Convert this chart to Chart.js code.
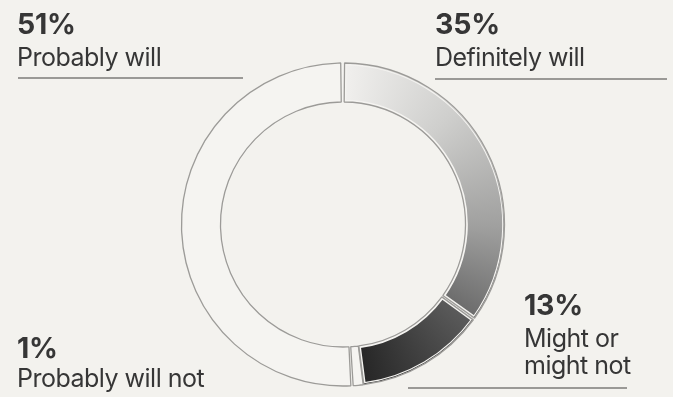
<!DOCTYPE html>
<html>
<head>
<meta charset="utf-8">
<script src="https://cdn.jsdelivr.net/npm/chart.js@4"></script>
<style>
  html, body { margin: 0; padding: 0; background: #f3f2ee; }
  #wrap { position: relative; width: 673px; height: 397px; overflow: hidden;
          font-family: Inter, "Liberation Sans", sans-serif; color: #363636; }
  #wrap canvas { position: absolute; left: 0; top: 0; }
  .pct { position: absolute; font-weight: 700; font-size: 28.5px; line-height: 30px; letter-spacing: -0.2px; white-space: nowrap; }
  .name { position: absolute; font-size: 25px; line-height: 27px; letter-spacing: -0.5px; }
  .rule { position: absolute; height: 2px; background: #9a9996; }
</style>
</head>
<body>
<div id="wrap">
  <canvas id="ring" width="673" height="397"></canvas>
</div>
<script>
// survey answers, clockwise from 12 o'clock
const answers = ['Definitely will', 'Might or might not', 'Probably will not', 'Probably will'];
const shares = [35, 13, 1, 51];

// where each answer's caption sits: [left, pct top, name top, name width, rule left, rule top, rule width]
const captionSpots = [
  [435, 9, 44, 240, 435, 78, 232],
  [524, 290, 325, 112, 408, 387, 219],
  [17, 333, 365, 260, null, null, null],
  [17, 9, 44, 240, 18, 77, 225]
];

const PALE = '#f5f4f1';
const EDGE = '#9c9b98';

// grey shading that darkens clockwise through the first two answers
function shade(chart) {
  const a = chart.chartArea;
  if (!a) return '#999';
  const total = shares.reduce((s, v) => s + v, 0);
  const p1 = shares[0] / total;
  const p2 = (shares[0] + shares[1]) / total;
  const g = chart.ctx.createConicGradient(-Math.PI / 2, (a.left + a.right) / 2, (a.top + a.bottom) / 2);
  g.addColorStop(0, '#f1f0ee');
  g.addColorStop(p1 * 0.35, '#cfcfcd');
  g.addColorStop(p1 * 0.72, '#a0a09f');
  g.addColorStop(p1, '#6b6b6b');
  g.addColorStop(p1 + 0.003, '#5a5a5a');
  g.addColorStop(p2, '#262626');
  g.addColorStop(Math.min(p2 + 0.01, 1), PALE);
  g.addColorStop(1, PALE);
  return g;
}

// thin grey outline around every segment, drawn by the arc elements themselves
const ringOutline = {
  id: 'ringOutline',
  afterDatasetsDraw(chart) {
    const ctx = chart.ctx;
    chart.getDatasetMeta(0).data.forEach(arc => {
      const saved = arc.options;
      arc.options = Object.assign({}, saved, {
        backgroundColor: 'rgba(0,0,0,0)',
        borderColor: EDGE,
        borderWidth: 1.3,
        borderAlign: 'center'
      });
      arc.draw(ctx);
      arc.options = saved;
    });
  }
};

const SPACING = 2.5;
const OUTER = 161.5 - SPACING / 2;
const INNER = 122.5 - SPACING / 2;

new Chart(document.getElementById('ring'), {
  type: 'doughnut',
  data: {
    labels: answers,
    datasets: [{
      data: shares,
      backgroundColor: (c) => (c.dataIndex < 2 ? shade(c.chart) : PALE),
      borderColor: PALE,
      borderWidth: 2,
      borderAlign: 'inner',
      spacing: SPACING
    }]
  },
  options: {
    responsive: false,
    animation: false,
    radius: OUTER,
    cutout: (INNER / OUTER * 100) + '%',
    layout: { padding: { left: 13, top: 52, right: 0, bottom: 0 } },
    plugins: { legend: { display: false }, tooltip: { enabled: false } },
    events: []
  },
  plugins: [ringOutline]
});

// captions
const wrap = document.getElementById('wrap');
answers.forEach((name, i) => {
  const [left, pctTop, nameTop, nameW, ruleL, ruleT, ruleW] = captionSpots[i];
  const pct = document.createElement('div');
  pct.className = 'pct';
  pct.style.left = left + 'px';
  pct.style.top = pctTop + 'px';
  pct.textContent = shares[i] + '%';
  wrap.appendChild(pct);

  const nm = document.createElement('div');
  nm.className = 'name';
  nm.style.left = left + 'px';
  nm.style.top = nameTop + 'px';
  nm.style.width = nameW + 'px';
  nm.textContent = name;
  wrap.appendChild(nm);

  if (ruleL !== null) {
    const r = document.createElement('div');
    r.className = 'rule';
    r.style.left = ruleL + 'px';
    r.style.top = ruleT + 'px';
    r.style.width = ruleW + 'px';
    wrap.appendChild(r);
  }
});
</script>
</body>
</html>
